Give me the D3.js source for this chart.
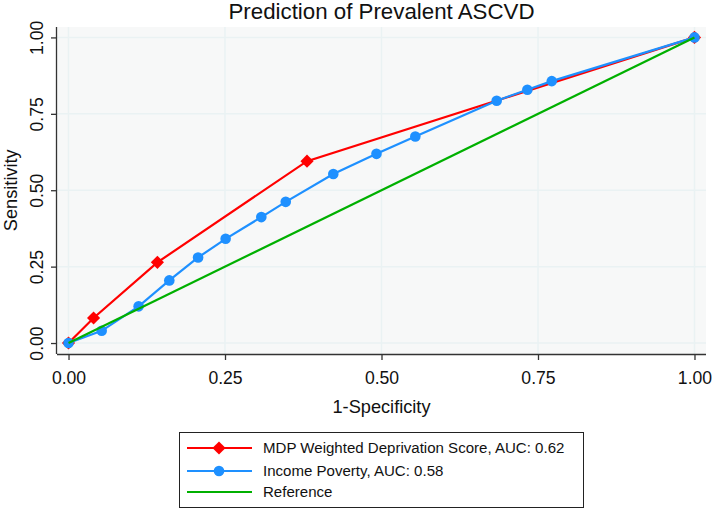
<!DOCTYPE html>
<html>
<head>
<meta charset="utf-8">
<script src="https://cdn.jsdelivr.net/npm/d3@7"></script>
<style>
  html, body { margin: 0; padding: 0; background: #ffffff; }
  svg { display: block; font-family: "Liberation Sans", Arial, sans-serif; }
</style>
</head>
<body>
<svg id="chart" width="714" height="510"></svg>
<script>
// ---- data ----
const mdpX = [0, 0.040, 0.142, 0.381, 1];
const mdpY = [0, 0.082, 0.264, 0.595, 1];
const incomeX = [0, 0.053, 0.112, 0.161, 0.207, 0.251, 0.308, 0.347, 0.423, 0.492, 0.554, 0.684, 0.733, 0.772, 1];
const incomeY = [0, 0.040, 0.120, 0.205, 0.280, 0.341, 0.412, 0.462, 0.553, 0.619, 0.676, 0.793, 0.829, 0.857, 1];
const refX = [0, 1];
const refY = [0, 1];
const tickValues = [0, 0.25, 0.5, 0.75, 1];
const tickLabels = ["0.00", "0.25", "0.50", "0.75", "1.00"];
const seriesNames = ["MDP Weighted Deprivation Score, AUC: 0.62", "Income Poverty, AUC: 0.58", "Reference"];
const seriesColors = ["#ff0000", "#1e90ff", "#00b000"];

const svg = d3.select("#chart");
const plot = { left: 57, right: 706, top: 27, bottom: 354 };

const x = d3.scaleLinear().domain([-0.0184, 1.0184]).range([plot.left, plot.right]);
const y = d3.scaleLinear().domain([-0.0359, 1.0341]).range([plot.bottom, plot.top]);

// background
svg.append("rect").attr("x", plot.left).attr("y", plot.top)
  .attr("width", plot.right - plot.left).attr("height", plot.bottom - plot.top)
  .attr("fill", "#f7f8f8");

// grid
const grid = svg.append("g");
tickValues.forEach(v => {
  grid.append("line").attr("x1", x(v)).attr("x2", x(v)).attr("y1", plot.top).attr("y2", plot.bottom)
    .attr("stroke", "#eaf2f3").attr("stroke-width", 1.5);
  grid.append("line").attr("x1", plot.left).attr("x2", plot.right).attr("y1", y(v)).attr("y2", y(v))
    .attr("stroke", "#eaf2f3").attr("stroke-width", 1.5);
});

const FONT = "Liberation Sans, Arial, sans-serif";

// axes
const xAxis = d3.axisBottom(x).tickValues(tickValues).tickFormat((d, i) => tickLabels[i]).tickSize(6).tickPadding(12);
const gx = svg.append("g").attr("transform", `translate(0,${plot.bottom})`).call(xAxis);
gx.select(".domain").attr("d", `M${plot.left},0.5H${plot.right}`).attr("stroke", "#333").attr("stroke-width", 1.3);
gx.selectAll(".tick line").attr("stroke", "#333").attr("stroke-width", 1.3);
gx.selectAll(".tick text").attr("font-size", 17.6).attr("fill", "#111").attr("font-family", FONT);

const yAxis = d3.axisLeft(y).tickValues(tickValues).tickFormat((d, i) => tickLabels[i]).tickSize(6).tickPadding(5);
const gy = svg.append("g").attr("transform", `translate(${plot.left},0)`).call(yAxis);
gy.select(".domain").attr("d", `M-0.5,${plot.top}V${plot.bottom}`).attr("stroke", "#333").attr("stroke-width", 1.3);
gy.selectAll(".tick line").attr("stroke", "#333").attr("stroke-width", 1.3);
gy.selectAll(".tick text")
  .attr("font-size", 17.6).attr("fill", "#111").attr("font-family", FONT)
  .attr("x", null).attr("dy", null)
  .attr("text-anchor", "middle")
  .attr("transform", "translate(-14,0) rotate(-90)");

// axis titles
svg.append("text").attr("x", x(0.5)).attr("y", 413).attr("text-anchor", "middle")
  .attr("font-size", 18.2).attr("fill", "#111").text("1-Specificity");
svg.append("text").attr("transform", `translate(17,${y(0.5)}) rotate(-90)`).attr("text-anchor", "middle")
  .attr("font-size", 18.2).attr("fill", "#111").text("Sensitivity");

// title
svg.append("text").attr("x", x(0.5)).attr("y", 18.5).attr("text-anchor", "middle")
  .attr("font-size", 22.3).attr("fill", "#111").text("Prediction of Prevalent ASCVD");

const line = d3.line().x(d => x(d[0])).y(d => y(d[1]));
const mdp = mdpX.map((v, i) => [v, mdpY[i]]);
const inc = incomeX.map((v, i) => [v, incomeY[i]]);
const ref = refX.map((v, i) => [v, refY[i]]);

const diamond = d3.symbol().type(d3.symbolDiamond2).size(110);

// MDP series
svg.append("path").datum(mdp).attr("d", line).attr("fill", "none").attr("stroke", seriesColors[0]).attr("stroke-width", 2.2);
svg.append("g").selectAll("path").data(mdp).join("path")
  .attr("d", diamond).attr("transform", d => `translate(${x(d[0])},${y(d[1])})`).attr("fill", seriesColors[0]);

// Income series
svg.append("path").datum(inc).attr("d", line).attr("fill", "none").attr("stroke", seriesColors[1]).attr("stroke-width", 2.2);
svg.append("g").selectAll("circle").data(inc).join("circle")
  .attr("cx", d => x(d[0])).attr("cy", d => y(d[1])).attr("r", 5.3).attr("fill", seriesColors[1]);

// Reference
svg.append("path").datum(ref).attr("d", line).attr("fill", "none").attr("stroke", seriesColors[2]).attr("stroke-width", 2.2);

// legend
const lg = svg.append("g");
lg.append("rect").attr("x", 179.5).attr("y", 432.5).attr("width", 404).attr("height", 75)
  .attr("fill", "#fff").attr("stroke", "#222").attr("stroke-width", 1);
const rowsY = [448, 471, 492];
seriesNames.forEach((name, i) => {
  lg.append("line").attr("x1", 187).attr("x2", 252).attr("y1", rowsY[i]).attr("y2", rowsY[i])
    .attr("stroke", seriesColors[i]).attr("stroke-width", 2.2);
  if (i === 0) {
    lg.append("path").attr("d", diamond).attr("transform", `translate(219,${rowsY[i]})`).attr("fill", seriesColors[i]);
  } else if (i === 1) {
    lg.append("circle").attr("cx", 219).attr("cy", rowsY[i]).attr("r", 5.3).attr("fill", seriesColors[i]);
  }
  lg.append("text").attr("x", 263).attr("y", rowsY[i]).attr("dy", "0.35em")
    .attr("font-size", 15.05).attr("fill", "#111").text(name);
});
</script>
</body>
</html>
